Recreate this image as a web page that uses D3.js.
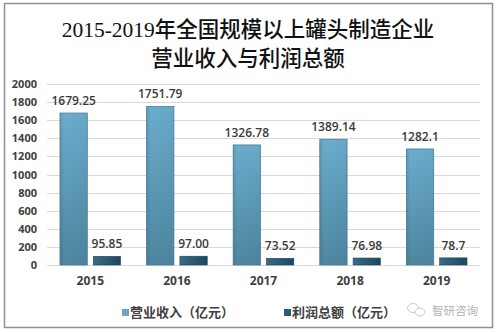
<!DOCTYPE html>
<html>
<head>
<meta charset="utf-8">
<script src="https://cdn.jsdelivr.net/npm/d3@7"></script>
<style>
  html, body { margin: 0; padding: 0; background: #fff; }
  svg { display: block; }
</style>
</head>
<body>
<div id="chart"></div>
<script>
// Revenue and total profit of canned-food manufacturers above designated size, 2015-2019
const years = ["2015", "2016", "2017", "2018", "2019"];
const revenue = [1679.25, 1751.79, 1326.78, 1389.14, 1282.1];
const profit = [95.85, 97.00, 73.52, 76.98, 78.7];
const revenueLabels = ["1679.25", "1751.79", "1326.78", "1389.14", "1282.1"];
const profitLabels = ["95.85", "97.00", "73.52", "76.98", "78.7"];
const seriesNames = ["营业收入（亿元）", "利润总额（亿元）"];
const yTicks = [0, 200, 400, 600, 800, 1000, 1200, 1400, 1600, 1800, 2000];
const titleLines = ["2015-2019年全国规模以上罐头制造企业", "营业收入与利润总额"];

const W = 496, H = 332;
const plot = { left: 47, right: 480, top: 84, bottom: 265 };

const svg = d3.select("#chart").append("svg")
  .attr("width", W).attr("height", H);

const defs = svg.append("defs");
const gRev = defs.append("linearGradient").attr("id", "gradRev")
  .attr("x1", 0).attr("y1", 0).attr("x2", 0).attr("y2", 1);
gRev.append("stop").attr("offset", "0%").attr("stop-color", "#6badcd");
gRev.append("stop").attr("offset", "100%").attr("stop-color", "#4d86a0");
const gRevH = defs.append("linearGradient").attr("id", "gradRevH")
  .attr("x1", 0).attr("y1", 0).attr("x2", 1).attr("y2", 0);
gRevH.append("stop").attr("offset", "0%").attr("stop-color", "#000").attr("stop-opacity", 0.10);
gRevH.append("stop").attr("offset", "15%").attr("stop-color", "#000").attr("stop-opacity", 0);
gRevH.append("stop").attr("offset", "100%").attr("stop-color", "#000").attr("stop-opacity", 0.03);
const gPro = defs.append("linearGradient").attr("id", "gradPro")
  .attr("x1", 0).attr("y1", 0).attr("x2", 1).attr("y2", 0);
gPro.append("stop").attr("offset", "0%").attr("stop-color", "#3a6b88");
gPro.append("stop").attr("offset", "100%").attr("stop-color", "#1c475f");

// Frame
svg.append("rect")
  .attr("x", 4.5).attr("y", 3.5).attr("width", 488).attr("height", 324)
  .attr("fill", "#fff").attr("stroke", "#8f8f8f").attr("stroke-width", 1.5);

// Title
svg.append("g").selectAll("text").data(titleLines).join("text")
  .attr("x", 248).attr("y", (d, i) => 37 + i * 29)
  .attr("text-anchor", "middle")
  .attr("font-family", "'Liberation Serif', 'Noto Sans CJK SC', serif")
  .attr("font-size", 21.5)
  .attr("font-weight", 500)
  .attr("fill", "#111")
  .text(d => d);

// Scales
const y = d3.scaleLinear().domain([0, 2000]).range([plot.bottom, plot.top]);
const x0 = d3.scaleBand().domain(years).range([plot.left, plot.right]).padding(0);
const x1 = d3.scaleBand().domain([0, 1]).range([0, x0.bandwidth()])
  .paddingInner(0.18).paddingOuter(0.39);

// Gridlines
svg.append("g").selectAll("line").data(yTicks).join("line")
  .attr("x1", plot.left).attr("x2", plot.right)
  .attr("y1", d => Math.round(y(d)) + 0.5).attr("y2", d => Math.round(y(d)) + 0.5)
  .attr("stroke", "#d9d9d9").attr("stroke-width", 1);

// Y axis labels
const yAxis = d3.axisLeft(y).tickValues(yTicks).tickFormat(d3.format("d"))
  .tickSize(0).tickPadding(0);
const yg = svg.append("g").attr("transform", `translate(37,0)`).call(yAxis);
yg.select(".domain").remove();
yg.selectAll("text")
  .attr("font-family", "'Open Sans', 'Noto Sans', sans-serif")
  .attr("font-weight", "bold").attr("font-size", 11).attr("fill", "#404040");

// X axis labels
const xAxis = d3.axisBottom(x0).tickSize(0).tickPadding(11);
const xg = svg.append("g").attr("transform", `translate(0,${plot.bottom})`).call(xAxis);
xg.select(".domain").remove();
xg.selectAll("text")
  .attr("font-family", "'Open Sans', 'Noto Sans', sans-serif")
  .attr("font-weight", "bold").attr("font-size", 12).attr("fill", "#404040");

// Bars
const rows = years.map((yr, i) => ({ yr, rev: revenue[i], pro: profit[i], rl: revenueLabels[i], pl: profitLabels[i] }));
const groups = svg.append("g").selectAll("g").data(rows).join("g")
  .attr("transform", d => `translate(${x0(d.yr)},0)`);

groups.append("rect")
  .attr("x", x1(0)).attr("width", x1.bandwidth())
  .attr("y", d => y(d.rev)).attr("height", d => y(0) - y(d.rev))
  .attr("fill", "url(#gradRev)").attr("stroke", "#4a7f99").attr("stroke-width", 0.8);
groups.append("rect")
  .attr("x", x1(0)).attr("width", x1.bandwidth())
  .attr("y", d => y(d.rev)).attr("height", d => y(0) - y(d.rev))
  .attr("fill", "url(#gradRevH)");
groups.append("rect")
  .attr("x", x1(1)).attr("width", x1.bandwidth())
  .attr("y", d => y(d.pro)).attr("height", d => y(0) - y(d.pro))
  .attr("fill", "url(#gradPro)").attr("stroke", "#1d4258").attr("stroke-width", 0.6);

// Value labels
const labelFont = "'Open Sans', 'Noto Sans', sans-serif";
groups.append("text")
  .attr("x", x1(0) + x1.bandwidth() / 2).attr("y", d => y(d.rev) - 8)
  .attr("text-anchor", "middle").attr("font-family", labelFont)
  .attr("font-size", 12).attr("font-weight", 600).attr("fill", "#3a3a3a")
  .text(d => d.rl);
groups.append("text")
  .attr("x", x1(1) + x1.bandwidth() / 2).attr("y", d => y(d.pro) - 8)
  .attr("text-anchor", "middle").attr("font-family", labelFont)
  .attr("font-size", 12).attr("font-weight", 600).attr("fill", "#3a3a3a")
  .text(d => d.pl);

// Legend
const legend = svg.append("g");
const legendX = [122, 284];
const legendFill = ["#6aa6c4", "#2d5b75"];
seriesNames.forEach((name, i) => {
  legend.append("rect")
    .attr("x", legendX[i]).attr("y", 309).attr("width", 7).attr("height", 7)
    .attr("fill", legendFill[i]);
  legend.append("text")
    .attr("x", legendX[i] + 8).attr("y", 317)
    .attr("font-family", "'Noto Sans CJK SC', sans-serif")
    .attr("font-weight", "bold").attr("font-size", 13).attr("fill", "#404040")
    .text(name);
});

// Watermark
const wm = svg.append("g").attr("opacity", 0.75);
wm.append("ellipse").attr("cx", 413).attr("cy", 308).attr("rx", 5.5).attr("ry", 4.5)
  .attr("fill", "none").attr("stroke", "#b8b8b8").attr("stroke-width", 1);
wm.append("ellipse").attr("cx", 420).attr("cy", 312).attr("rx", 5).attr("ry", 4)
  .attr("fill", "#fff").attr("stroke", "#b8b8b8").attr("stroke-width", 1);
wm.append("text").attr("x", 432).attr("y", 315)
  .attr("font-family", "'Noto Sans CJK SC', sans-serif")
  .attr("font-size", 11.5).attr("fill", "#9a9a9a")
  .text("智研咨询");
</script>
</body>
</html>
